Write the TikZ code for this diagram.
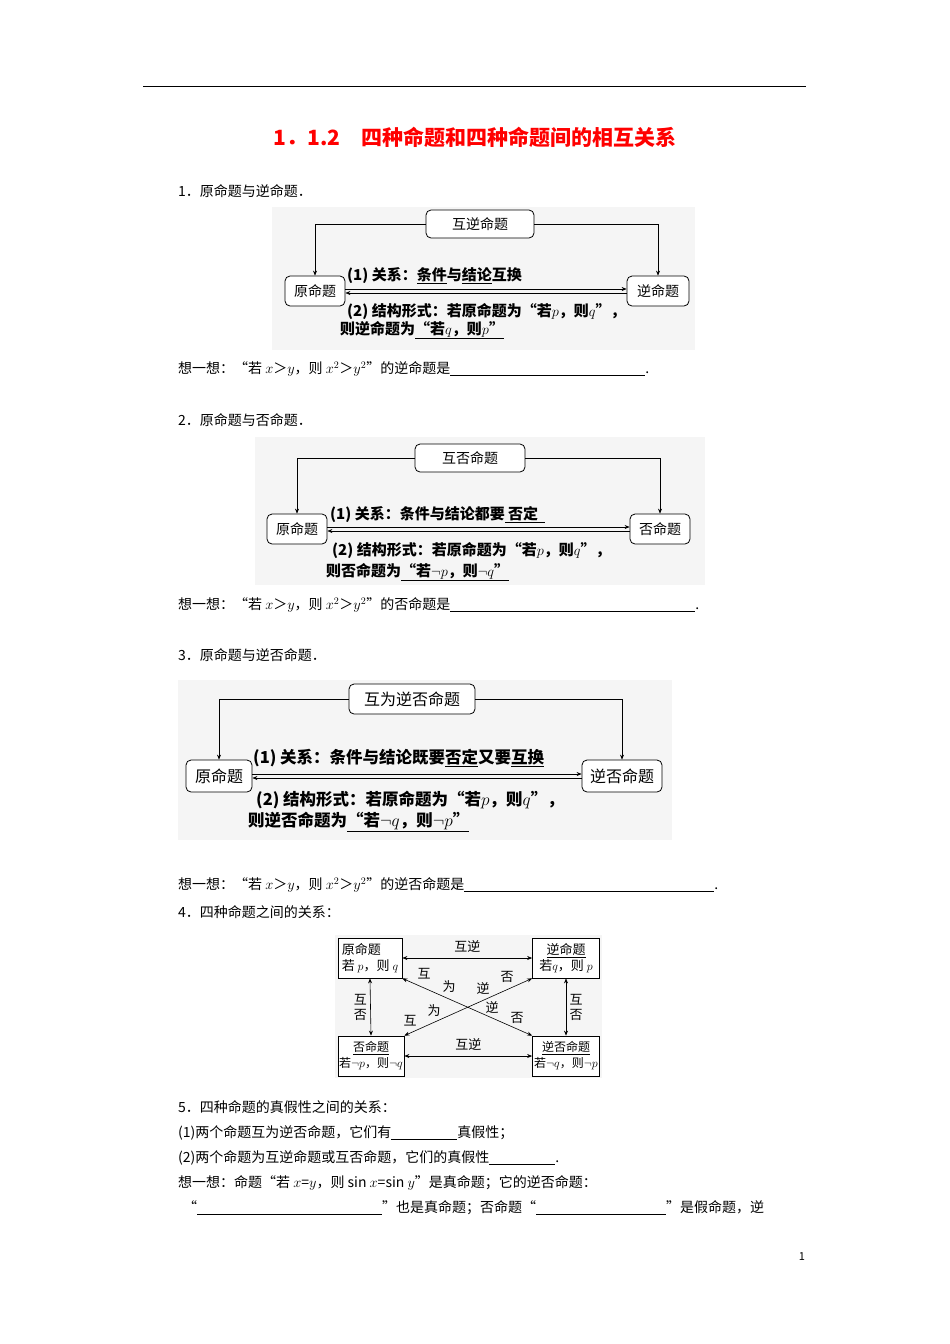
\documentclass[tikz,border=0pt]{standalone}
\usepackage{fontspec}
\setmainfont{Noto Sans CJK SC}
\usetikzlibrary{arrows.meta}
\newcommand{\blank}[1]{\underline{\makebox[#1]{}}}
\begin{document}
\begin{tikzpicture}[x=1pt,y=-1pt,
  txt/.style={anchor=west,inner sep=0pt,font=\fontsize{14}{16}\selectfont},
  rbox/.style={draw,rounded corners=5pt,thick,fill=white,inner sep=3pt,font=\fontsize{14}{16}\selectfont},
  dtxt/.style={anchor=west,inner sep=0pt,font=\fontsize{15}{17}\selectfont\bfseries},
  arr/.style={-{Stealth[length=5pt,width=4pt]},semithick},
  bg/.style={fill=black!4,draw=none},
  qbox/.style={draw,thick,inner sep=0pt,minimum height=40pt,fill=white}]
\useasboundingbox (0,0) rectangle (950,1344);
\fill[white] (0,0) rectangle (950,1344);
\draw[thick] (143,86) -- (806,86);
\node[inner sep=0pt,text=red,font=\fontsize{21}{24}\selectfont\bfseries] (title) at (475,137) {1．1.2\quad 四种命题和四种命题间的相互关系};
\node[txt] (l1) at (178,191) {1．原命题与逆命题．};
% diagram 1
\fill[bg] (272,207) rectangle (695,350);
\node[rbox,minimum width=108pt,minimum height=28pt] (a1) at (480,224) {互逆命题};
\node[rbox,minimum width=60pt,minimum height=30pt] (a2) at (315,291) {原命题};
\node[rbox,minimum width=62pt,minimum height=30pt] (a3) at (658,291) {逆命题};
\draw[arr] (a1.west) -| (a2.north);
\draw[arr] (a1.east) -| (a3.north);
\draw[arr] ([yshift=2pt]a2.east) -- ([yshift=2pt]a3.west);
\draw[arr] ([yshift=-2pt]a3.west) -- ([yshift=-2pt]a2.east);
\node[dtxt] (t11) at (347,276) {(1) 关系：\underline{条件}与\underline{结论}互换};
\node[dtxt] (t12) at (347,311) {(2) 结构形式：若原命题为“若$p$，则$q$”，};
\node[dtxt] (t13) at (340,330) {则逆命题为\underline{“若$q$，则$p$”}};
\node[txt] (q1) at (178,369) {想一想：“若 $x$＞$y$，则 $x^2$＞$y^2$”的逆命题是\blank{195pt}.};
\node[txt] (l2) at (178,420) {2．原命题与否命题．};
% diagram 2
\fill[bg] (255,437) rectangle (705,585);
\node[rbox,minimum width=110pt,minimum height=28pt] (b1) at (470,458) {互否命题};
\node[rbox,minimum width=60pt,minimum height=30pt] (b2) at (297,529) {原命题};
\node[rbox,minimum width=60pt,minimum height=30pt] (b3) at (660,529) {否命题};
\draw[arr] (b1.west) -| (b2.north);
\draw[arr] (b1.east) -| (b3.north);
\draw[arr] ([yshift=2pt]b2.east) -- ([yshift=2pt]b3.west);
\draw[arr] ([yshift=-2pt]b3.west) -- ([yshift=-2pt]b2.east);
\node[dtxt] (t21) at (330,515) {(1) 关系：条件与结论都要\underline{\ 否定\ \ }};
\node[dtxt] (t22) at (332,550) {(2) 结构形式：若原命题为“若$p$，则$q$”，};
\node[dtxt] (t23) at (326,572) {则否命题为\underline{“若$\neg p$，则$\neg q$”}};
\node[txt] (q2) at (178,605) {想一想：“若 $x$＞$y$，则 $x^2$＞$y^2$”的否命题是\blank{245pt}.};
\node[txt] (l3) at (178,655) {3．原命题与逆否命题．};
% diagram 3
\fill[bg] (178,680) rectangle (672,840);
\node[rbox,minimum width=126pt,minimum height=30pt,font=\fontsize{16}{18}\selectfont] (c1) at (412,699) {互为逆否命题};
\node[rbox,minimum width=66pt,minimum height=32pt,font=\fontsize{16}{18}\selectfont] (c2) at (219,776) {原命题};
\node[rbox,minimum width=80pt,minimum height=32pt,font=\fontsize{16}{18}\selectfont] (c3) at (622,776) {逆否命题};
\draw[arr] (c1.west) -| (c2.north);
\draw[arr] (c1.east) -| (c3.north);
\draw[arr] ([yshift=2pt]c2.east) -- ([yshift=2pt]c3.west);
\draw[arr] ([yshift=-2pt]c3.west) -- ([yshift=-2pt]c2.east);
\node[dtxt,font=\fontsize{16.5}{18}\selectfont\bfseries] (t31) at (253,758) {(1) 关系：条件与结论既要\underline{否定}又要\underline{互换}};
\node[dtxt,font=\fontsize{16.5}{18}\selectfont\bfseries] (t32) at (256,800) {(2) 结构形式：若原命题为“若$p$，则$q$”，};
\node[dtxt,font=\fontsize{16.5}{18}\selectfont\bfseries] (t33) at (248,822) {则逆否命题为\underline{“若$\neg q$，则$\neg p$”}};
\node[txt] (q3) at (178,885) {想一想：“若 $x$＞$y$，则 $x^2$＞$y^2$”的逆否命题是\blank{250pt}.};
\node[txt] (l4) at (178,912) {4．四种命题之间的关系：};
% diagram 4
\fill[bg] (335,935) rectangle (602,1078);
\node[qbox,minimum width=64pt,align=left,font=\fontsize{13}{16}\selectfont] (d1) at (370,958) {原命题\\若 $p$，则 $q$};
\node[qbox,minimum width=67pt,align=center,font=\fontsize{13}{16}\selectfont] (d2) at (566,958) {\underline{逆命题}\\若$q$，则 $p$};
\node[qbox,minimum width=66pt,align=center,font=\fontsize{12}{16}\selectfont] (d3) at (371,1056) {\underline{否命题}\\若$\neg p$，则$\neg q$};
\node[qbox,minimum width=67pt,align=center,font=\fontsize{12}{16}\selectfont] (d4) at (566,1056) {\underline{逆否命题}\\若$\neg q$，则$\neg p$};
\draw[{Stealth[length=5pt,width=4pt]}-{Stealth[length=5pt,width=4pt]},semithick] (d1.east) -- node[above=2pt,font=\fontsize{13}{15}\selectfont]{互逆} (d2.west);
\draw[{Stealth[length=5pt,width=4pt]}-{Stealth[length=5pt,width=4pt]},semithick] (d3.east) -- node[above=2pt,font=\fontsize{13}{15}\selectfont]{互逆} (d4.west);
\draw[{Stealth[length=5pt,width=4pt]}-{Stealth[length=5pt,width=4pt]},semithick] (d1.south) -- node[left,align=center,font=\fontsize{13}{15}\selectfont]{互\\否} (d3.north);
\draw[{Stealth[length=5pt,width=4pt]}-{Stealth[length=5pt,width=4pt]},semithick] (d2.south) -- node[right,align=center,font=\fontsize{13}{15}\selectfont]{互\\否} (d4.north);
\draw[{Stealth[length=5pt,width=4pt]}-{Stealth[length=5pt,width=4pt]},semithick] (d1.south east) -- (d4.north west);
\draw[{Stealth[length=5pt,width=4pt]}-{Stealth[length=5pt,width=4pt]},semithick] (d2.south west) -- (d3.north east);
\begin{scope}[every node/.style={font=\fontsize{13}{15}\selectfont}]
\node (e1) at (424,974) {互}; \node (e2) at (449,987) {为}; \node (e3) at (483,988) {逆}; \node (e4) at (507,977) {否};
\node (e5) at (410,1021) {互}; \node (e6) at (434,1011) {为}; \node (e7) at (492,1007) {逆}; \node (e8) at (517,1018) {否};
\end{scope}
\node[txt] (l5) at (178,1107) {5．四种命题的真假性之间的关系：};
\node[txt] (l6) at (178,1133) {(1)两个命题互为逆否命题，它们有\blank{66pt}真假性；};
\node[txt] (l7) at (178,1158) {(2)两个命题为互逆命题或互否命题，它们的真假性\blank{66pt}.};
\node[txt] (l8) at (178,1183) {想一想：命题“若 $x$=$y$，则 sin $x$=sin $y$”是真命题；它的逆否命题：};
\node[txt] (l9) at (183,1208) {“\blank{185pt}”也是真命题；否命题“\blank{130pt}”是假命题，逆};
\node[inner sep=0pt,font=\fontsize{11}{13}\selectfont] (pg) at (802,1257) {1};
\end{tikzpicture}
\end{document}
